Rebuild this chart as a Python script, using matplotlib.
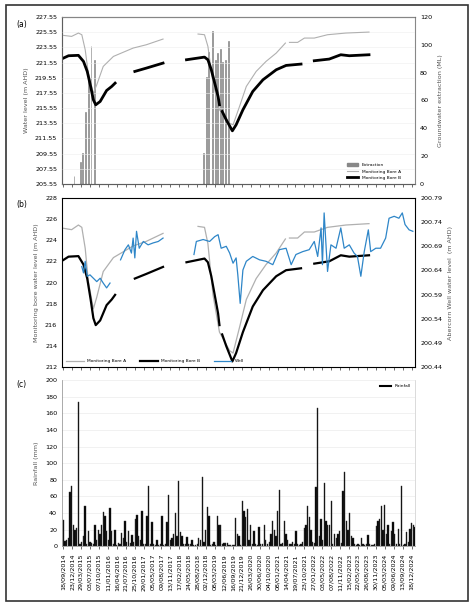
import matplotlib
matplotlib.use("Agg")
import matplotlib.pyplot as plt
import numpy as np
import pandas as pd
from matplotlib.lines import Line2D
from matplotlib.patches import Rectangle

def dy(y):
    y = np.asarray(y, dtype=float)
    base = pd.Timestamp("2014-01-01")
    return [base + pd.Timedelta(days=float((v - 2014.0) * 365.25)) for v in y]

tick_labels = ["18/09/2014","23/12/2014","29/03/2015","03/07/2015","07/10/2015","11/01/2016",
 "16/04/2016","21/07/2016","25/10/2016","29/01/2017","05/05/2017","09/08/2017","13/11/2017",
 "17/02/2018","24/05/2018","28/08/2018","02/12/2018","08/03/2019","12/06/2019","16/09/2019",
 "21/12/2019","26/03/2020","30/06/2020","04/10/2020","08/01/2021","14/04/2021","19/07/2021",
 "23/10/2021","27/01/2022","03/05/2022","07/08/2022","11/11/2022","15/02/2023","22/05/2023",
 "26/08/2023","30/11/2023","05/03/2024","09/06/2024","13/09/2024","18/12/2024"]

# Monitoring Bore A segments (decimal year, m AHD)
boreA_seg = [
 ([2014.72,2014.96,2015.16,2015.26,2015.36,2015.45,2015.60,2015.70,2015.89,2016.19,2016.77,2017.16,2017.65],
  [225.13,225.0,225.44,225.22,223.24,220.16,217.52,218.62,221.04,222.36,223.46,223.9,224.65]),
 ([2018.68,2018.87,2018.97,2019.12,2019.31,2019.61,2019.71,2019.90,2020.10,2020.39,2020.68,2020.98,2021.25],
  [225.31,225.22,223.68,218.84,215.32,213.56,213.34,215.76,218.4,220.38,221.7,222.8,224.12]),
 ([2021.37,2021.61,2021.81,2022.10,2022.49,2023.03,2023.71],
  [224.21,224.21,224.78,224.78,225.22,225.44,225.57]),
]
boreB_seg = [
 ([2014.72,2014.87,2015.16,2015.31,2015.42,2015.52,2015.60,2015.67,2015.80,2015.99,2016.14,2016.24],
  [222.14,222.45,222.5,221.7,220.38,218.4,216.64,215.98,216.42,217.87,218.4,218.84]),
 ([2016.82,2017.16,2017.65],[220.38,220.82,221.48]),
 ([2018.34,2018.87,2018.97,2019.07,2019.17,2019.27,2019.31],[221.92,222.27,221.92,220.6,218.84,217.08,215.98]),
 ([2019.39,2019.51,2019.69,2019.80,2020.0,2020.29,2020.59,2020.98,2021.27,2021.71],
  [215.1,214.0,212.55,213.34,215.32,217.74,219.28,220.6,221.17,221.35]),
 ([2022.10,2022.54,2022.88,2023.13,2023.71],[221.79,222.01,222.58,222.45,222.58]),
]
extr_t = [2015.03,2015.21,2015.29,2015.37,2015.45,2015.53,2015.62,
          2018.84,2018.92,2019.0,2019.10,2019.18,2019.26,2019.33,2019.41,2019.49,2019.58]
extr_v = [6,16,22,52,75,99,89,22,77,95,110,89,94,97,88,89,103]

well_seg = [
 ([2015.26,2015.31,2015.36,2015.42,2015.50,2015.60,2015.70,2015.80,2015.89,2015.99,2016.09],
  [200.648,200.635,200.659,200.628,200.631,200.624,200.617,200.624,200.614,200.604,200.614]),
 ([2016.40,2016.53,2016.63,2016.72,2016.77,2016.82,2016.87,2016.95,2017.07,2017.21,2017.36,2017.51,2017.65],
  [200.662,200.683,200.693,200.676,200.707,200.666,200.721,200.686,200.700,200.693,200.697,200.700,200.707]),
 ([2018.56,2018.63,2018.83,2019.02,2019.17,2019.27,2019.36,2019.51,2019.61,2019.71,2019.80,2019.85,2019.92,
   2020.0,2020.10,2020.29,2020.49,2020.68,2020.88,2021.07,2021.27,2021.42,2021.56,2021.76,2021.95,2022.10,
   2022.20,2022.30,2022.34,2022.39,2022.49,2022.59,2022.74,2022.88,2022.98,2023.13,2023.27,2023.37,2023.47,
   2023.57,2023.69,2023.76,2023.91,2024.05,2024.20,2024.30,2024.45,2024.59,2024.69,2024.77,2024.89,2025.0],
  [200.673,200.700,200.704,200.700,200.710,200.714,200.686,200.690,200.676,200.655,200.666,200.631,200.572,
   200.641,200.659,200.669,200.662,200.659,200.652,200.683,200.686,200.652,200.673,200.679,200.683,200.700,
   200.669,200.728,200.652,200.759,200.638,200.693,200.686,200.728,200.686,200.693,200.676,200.669,200.628,
   200.679,200.724,200.679,200.686,200.686,200.707,200.748,200.752,200.748,200.759,200.735,200.724,200.721]),
]

rain_start = "2014-09-18"
rain_step_days = 18
rainfall = [32,6,8,10,65,73,25,20,22,174,3,5,12,48,3,18,5,4,3,25,8,20,15,25,41,37,18,8,46,18,
 3,19,2,4,3,16,10,30,5,18,4,14,5,33,38,12,8,43,3,3,37,73,3,29,3,2,8,2,3,37,
 2,3,29,62,8,10,15,40,12,78,17,12,3,3,11,3,3,8,2,2,3,10,7,83,5,20,47,36,2,3,
 5,2,37,26,25,3,4,4,4,2,2,2,2,34,15,12,2,55,43,35,45,8,25,3,18,3,2,23,3,3,
 25,8,3,5,15,30,20,12,43,68,3,4,31,15,8,3,3,5,3,18,3,2,3,5,22,25,48,35,20,5,
 4,71,166,12,33,8,76,30,25,25,55,3,15,10,15,18,4,66,89,30,20,40,12,10,3,2,3,2,10,3,
 2,3,14,3,2,2,3,24,30,33,48,20,50,15,26,3,18,29,15,3,21,3,72,2,3,17,5,21,28,26,23]

W, H = 474, 609
fig = plt.figure(figsize=(W/100, H/100), dpi=100)
fig.patches.append(Rectangle((6/W, 8/H), 462/W, 596/H, transform=fig.transFigure,
                             fill=False, edgecolor="#333333", lw=1.2))
plt.rcParams['font.family'] = ['DejaVu Sans']
fs = 4.6
ticks = pd.to_datetime(tick_labels, format="%d/%m/%Y")
xl = (dy([2014.68])[0], dy([2025.07])[0])
L, R = 0.131, 0.876
grey = "#b0b0b0"

def style(ax, labels=False):
    ax.set_xlim(*xl)
    ax.set_xticks(ticks)
    if labels:
        ax.set_xticklabels(tick_labels, rotation=90, fontsize=fs)
    else:
        ax.set_xticklabels([])
    ax.tick_params(axis='x', length=2, width=0.4, direction='out')
    ax.tick_params(axis='y', labelsize=fs, length=0)
    for s in ax.spines.values():
        s.set_color("#888888"); s.set_linewidth(0.5)

# (a)
ax1 = fig.add_axes([L, 0.698, R-L, 0.274])
ax1r = ax1.twinx()
ax1r.bar(dy(extr_t), extr_v, width=10, color="#999999", edgecolor="#777777", lw=0.4, zorder=1)
ax1r.set_ylim(0, 120); ax1r.set_yticks(range(0, 121, 20))
ax1r.tick_params(labelsize=fs, length=0)
ax1r.set_ylabel("Groundwater extraction (ML)", fontsize=fs, color="#555555")
ax1.set_zorder(ax1r.get_zorder()+1); ax1.patch.set_visible(False)
for i, (t, v) in enumerate(boreA_seg):
    ax1.plot(dy(t), v, color=grey, lw=0.8)
for i, (t, v) in enumerate(boreB_seg):
    ax1.plot(dy(t), v, color="black", lw=2.0)
ax1.set_ylim(205.55, 227.55); ax1.set_yticks(np.arange(205.55, 227.6, 2))
ax1.yaxis.grid(True, color="#eeeeee", lw=0.4)
ax1.set_ylabel("Water level (m AHD)", fontsize=fs, color="#555555")
style(ax1); ax1r.spines['right'].set_color("#888888")
h = [Rectangle((0,0),1,1,color="#888888"), Line2D([],[],color=grey,lw=0.8), Line2D([],[],color="black",lw=2)]
ax1.legend(h, ["Extraction","Monitoring Bore A","Monitoring Bore B"], loc="lower right",
           fontsize=3.2, frameon=False, bbox_to_anchor=(0.97, 0.0), handlelength=2.5)
fig.text(0.035, 0.955, "(a)", fontsize=5.5)

# (b)
ax2 = fig.add_axes([L, 0.397, R-L, 0.278])
ax2r = ax2.twinx()
for t, v in boreA_seg:
    ax2.plot(dy(t), v, color=grey, lw=0.9)
for t, v in boreB_seg:
    ax2.plot(dy(t), v, color="black", lw=1.6)
for t, v in well_seg:
    ax2r.plot(dy(t), v, color="#2e86c8", lw=0.9)
ax2.set_ylim(212, 228); ax2.set_yticks(range(212, 229, 2))
ax2r.set_ylim(200.44, 200.79); ax2r.set_yticks(np.arange(200.44, 200.8, 0.05))
ax2r.set_yticklabels([f"{v:.2f}" for v in np.arange(200.44, 200.8, 0.05)])
ax2r.tick_params(labelsize=fs, length=0)
ax2.set_ylabel("Monitoring bore water level (m AHD)", fontsize=fs, color="#555555")
ax2r.set_ylabel("Abercorn Well water level  (m AHD)", fontsize=fs, color="#555555")
style(ax2)
h = [Line2D([],[],color=grey,lw=0.9), Line2D([],[],color="black",lw=1.6), Line2D([],[],color="#2e86c8",lw=0.9)]
ax2.legend(h, ["Monitoring Bore A","Monitoring Bore B","Well"], loc="lower left", ncol=3,
           fontsize=3.2, frameon=False, bbox_to_anchor=(0.0, 0.0), handlelength=4, columnspacing=3)
fig.text(0.035, 0.66, "(b)", fontsize=5.5)

# (c)
ax3 = fig.add_axes([L, 0.103, R-L, 0.273])
rd = pd.date_range(rain_start, periods=len(rainfall), freq=f"{rain_step_days}D")
ax3.bar(rd, rainfall, width=14, color="black", edgecolor="#333333", lw=0.3)
ax3.set_ylim(0, 200); ax3.set_yticks(range(0, 201, 20))
ax3.yaxis.grid(True, color="#e6e6e6", lw=0.4); ax3.set_axisbelow(True)
ax3.set_ylabel("Rainfall (mm)", fontsize=fs, color="#555555")
style(ax3, labels=True)
ax3.spines['top'].set_visible(False); ax3.spines['right'].set_color("#cccccc")
ax3.legend([Line2D([],[],color="black",lw=1.5)], ["Rainfall"], loc="upper right", fontsize=3.2,
           frameon=False, handlelength=2.5)
fig.text(0.035, 0.365, "(c)", fontsize=5.5)

fig.savefig("out.png", dpi=100)
